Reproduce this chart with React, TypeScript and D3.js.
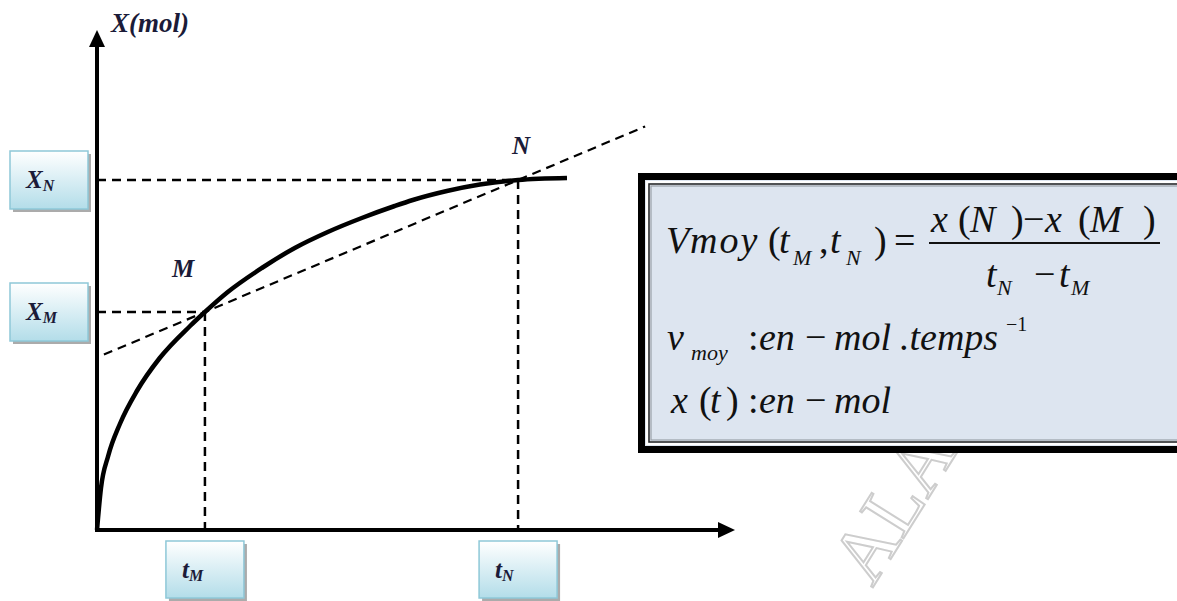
import React from "react";
import * as d3 from "d3";

// curve X(t) (t and X in arbitrary units)
const curveT = [0, 0.075, 0.21, 0.43, 0.75, 1.18, 1.75, 2.03, 2.46, 3.1, 3.72, 4.34, 4.98, 5.6, 5.94, 6.58, 7.2, 7.92, 8.84];
const curveX = [0, 0.84, 1.48, 2.12, 2.78, 3.44, 4.08, 4.36, 4.76, 5.24, 5.64, 5.96, 6.24, 6.48, 6.6, 6.78, 6.91, 7.0, 7.04];

const pointNames = ["M", "N"];
const pointT = [2.03, 7.92];
const pointX = [4.36, 7.0];
const secantRange = [0.13, 10.31];

const W = 1177;
const H = 601;
const serif = "'Liberation Serif', 'DejaVu Serif', serif";
const ink = "#1b1b38";

// formula pieces: text, x, baseline, size, italic
const formula = [
  ["V", 666, 253, 38, true],
  ["moy", 690, 253, 38, true],
  ["(", 768, 253, 38, false],
  ["t", 779, 253, 38, true],
  ["M", 793, 265, 22, true],
  [",", 819, 253, 38, false],
  ["t", 830, 253, 38, true],
  ["N", 846, 265, 22, true],
  [")", 874, 253, 38, false],
  ["=", 894, 253, 38, false],
  ["x", 931, 232, 38, true],
  ["(", 958, 232, 38, false],
  ["N", 970, 232, 38, true],
  [")", 1011, 232, 38, false],
  ["\u2212", 1023, 232, 38, false],
  ["x", 1045, 232, 38, true],
  ["(", 1078, 232, 38, false],
  ["M", 1090, 232, 38, true],
  [")", 1143, 232, 38, false],
  ["t", 986, 287, 38, true],
  ["N", 997, 295, 22, true],
  ["\u2212", 1034, 287, 38, false],
  ["t", 1059, 287, 38, true],
  ["M", 1071, 295, 22, true],
  ["v", 667, 350, 38, true],
  ["moy", 691, 360, 22, true],
  [":", 748, 350, 38, false],
  ["en", 759, 350, 38, true],
  ["\u2212", 805, 350, 38, false],
  ["mol", 834, 350, 38, true],
  [".temps", 900, 350, 38, true],
  ["\u22121", 1006, 331, 20, false],
  ["x", 671, 413, 38, true],
  ["(", 699, 413, 38, false],
  ["t", 710, 413, 38, true],
  [")", 726, 413, 38, false],
  [":", 748, 413, 38, false],
  ["en", 759, 413, 38, true],
  ["\u2212", 805, 413, 38, false],
  ["mol", 834, 413, 38, true],
];

const LabelBox = ({ x, y, w, h, main, sub }) => (
  <g>
    <rect x={x + 3} y={y + 3} width={w} height={h} fill="#8f8f8f" opacity={0.75} />
    <rect x={x} y={y} width={w} height={h} fill="url(#boxGrad)" stroke="#8ec8d8" strokeWidth={1.5} />
    <text x={x + 16} y={y + h / 2 + 8} fontFamily={serif} fontStyle="italic" fontWeight="bold" fontSize={25} fill={ink}>
      {main}
      <tspan fontSize={16} dy={3}>{sub}</tspan>
    </text>
  </g>
);

export default function App() {
  const xScale = d3.scaleLinear().domain([0, 12]).range([97, 735]);
  const yScale = d3.scaleLinear().domain([0, 10]).range([530, 30]);

  const pts = curveT.map((t, i) => [t, curveX[i]]);
  const line = d3
    .line()
    .x((d) => xScale(d[0]))
    .y((d) => yScale(d[1]))
    .curve(d3.curveMonotoneX);

  const slope = (pointX[1] - pointX[0]) / (pointT[1] - pointT[0]);
  const secY = (t) => pointX[0] + slope * (t - pointT[0]);

  const x0 = xScale(0);
  const y0 = yScale(0);
  const xEnd = xScale(12);
  const yEnd = yScale(10);
  const dash = "9 6";

  return (
    <svg width={W} height={H} style={{ position: "absolute", left: 0, top: 0, background: "#fff" }}>
      <defs>
        <linearGradient id="boxGrad" x1="0" y1="0" x2="0" y2="1">
          <stop offset="0" stopColor="#ffffff" />
          <stop offset="1" stopColor="#b3dde9" />
        </linearGradient>
      </defs>

      {/* watermark */}
      <text
        transform="translate(915,520) rotate(-58)"
        fontFamily={serif}
        fontSize={78}
        fill="#fff"
        stroke="#cdcdcd"
        strokeWidth={2}
        textAnchor="middle"
      >
        ALA
      </text>

      {/* dashed guides */}
      {pointT.map((t, i) => (
        <g key={pointNames[i]} stroke="#000" strokeWidth={2.5} strokeDasharray={dash} fill="none">
          <line x1={x0} x2={xScale(t)} y1={yScale(pointX[i])} y2={yScale(pointX[i])} />
          <line x1={xScale(t)} x2={xScale(t)} y1={yScale(pointX[i])} y2={y0} />
        </g>
      ))}
      <line
        x1={xScale(secantRange[0])}
        y1={yScale(secY(secantRange[0]))}
        x2={xScale(secantRange[1])}
        y2={yScale(secY(secantRange[1]))}
        stroke="#000"
        strokeWidth={2.2}
        strokeDasharray={dash}
      />

      {/* curve */}
      <path d={line(pts)} fill="none" stroke="#000" strokeWidth={4.5} strokeLinecap="butt" />

      {/* axes */}
      <line x1={x0} y1={y0 + 2} x2={x0} y2={yEnd + 14} stroke="#000" strokeWidth={4} />
      <line x1={x0 - 2} y1={y0} x2={xEnd - 14} y2={y0} stroke="#000" strokeWidth={4} />
      <path d={`M${x0},${yEnd} L${x0 - 8},${yEnd + 17} L${x0 + 8},${yEnd + 17} Z`} fill="#000" />
      <path d={`M${xEnd},${y0} L${xEnd - 17},${y0 - 8} L${xEnd - 17},${y0 + 8} Z`} fill="#000" />

      <text x={111} y={32} fontFamily={serif} fontStyle="italic" fontWeight="bold" fontSize={27} fill={ink}>
        X(mol)
      </text>

      {/* point labels */}
      <text x={xScale(pointT[0]) - 33} y={yScale(pointX[0]) - 35} fontFamily={serif} fontStyle="italic" fontWeight="bold" fontSize={25} fill={ink}>
        {pointNames[0]}
      </text>
      <text x={xScale(pointT[1]) - 6} y={yScale(pointX[1]) - 26} fontFamily={serif} fontStyle="italic" fontWeight="bold" fontSize={25} fill={ink}>
        {pointNames[1]}
      </text>

      {/* value boxes */}
      {pointNames.map((n, i) => (
        <g key={"b" + n}>
          <LabelBox x={10} y={yScale(pointX[i]) - 29} w={78} h={58} main="X" sub={n} />
          <LabelBox x={xScale(pointT[i]) - 39} y={541} w={78} h={57} main="t" sub={n} />
        </g>
      ))}

      {/* formula box */}
      <g>
        <rect x={641.5} y={176.5} width={540} height={273} fill="#dde5f0" stroke="#000" strokeWidth={7} />
        <rect x={647} y={182} width={540} height={262} fill="none" stroke="#fff" strokeWidth={2} />
        <rect x={649} y={184} width={540} height={258} fill="none" stroke="#222" strokeWidth={1.5} />
        <rect x={651} y={186} width={540} height={254} fill="none" stroke="#9aa0a8" strokeWidth={1.2} />
        <g fontFamily={serif} fill="#111">
          {formula.map(([s, x, y, size, it], i) => (
            <text
              key={i}
              x={x}
              y={y}
              fontSize={size}
              fontStyle={it ? "italic" : "normal"}
              letterSpacing={s === "moy" && size > 30 ? 2 : 0}
            >
              {s}
            </text>
          ))}
          <line x1={929} x2={1160} y1={243} y2={243} stroke="#111" strokeWidth={2} />
        </g>
      </g>
    </svg>
  );
}
